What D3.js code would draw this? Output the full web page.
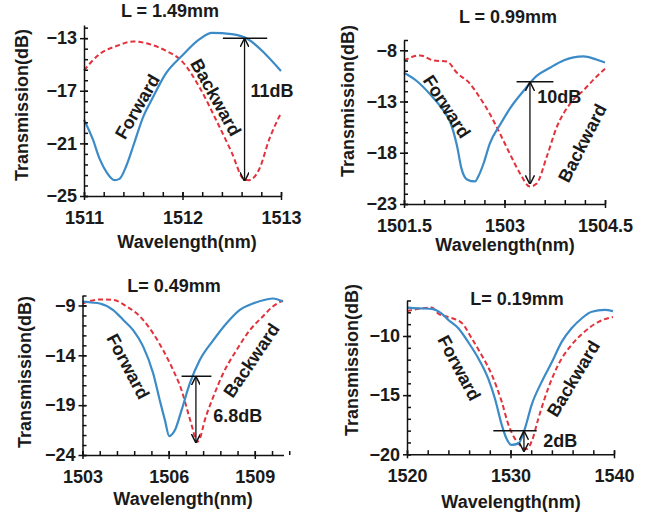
<!DOCTYPE html>
<html>
<head>
<meta charset="utf-8">
<script src="https://cdn.jsdelivr.net/npm/d3@7"></script>
<style>
  body { margin: 0; background: #fff; }
  text { font-family: "Liberation Sans", Arial, sans-serif; font-weight: bold; font-size: 18px; fill: #1a1a1a; }
</style>
</head>
<body>
<svg id="fig" width="654" height="517"></svg>
<script>
// ---- data: [wavelength nm, transmission dB] ----
var fwd149 = [[1511,-19.2],[1511.09,-20.7],[1511.16,-22.2],[1511.23,-23.2],[1511.31,-23.8],[1511.36,-23.7],[1511.43,-22.7],[1511.5,-21.2],[1511.6,-19.0],[1511.7,-17.5],[1511.83,-15.7],[1512,-14.3],[1512.17,-13.1],[1512.3,-12.6],[1512.5,-12.7],[1512.67,-13.1],[1512.84,-14.2],[1513,-15.5]];
var bwd149 = [[1511,-15.45],[1511.16,-14.2],[1511.33,-13.6],[1511.5,-13.25],[1511.66,-13.45],[1511.83,-13.95],[1512,-14.8],[1512.17,-16.7],[1512.34,-19.2],[1512.5,-21.7],[1512.62,-23.7],[1512.67,-23.8],[1512.78,-22.95],[1512.88,-20.7],[1513,-18.7]];

var fwd099 = [[1501.5,-10.2],[1501.69,-11.0],[1501.89,-12.3],[1502.09,-13.9],[1502.19,-15.0],[1502.29,-17.3],[1502.36,-19.6],[1502.44,-20.6],[1502.56,-20.8],[1502.61,-20.3],[1502.69,-19.0],[1502.78,-17.1],[1502.94,-15.2],[1503.09,-13.6],[1503.28,-12.0],[1503.48,-10.5],[1503.68,-9.7],[1503.88,-9.0],[1504.18,-8.6],[1504.37,-8.9],[1504.5,-9.2]];
var bwd099 = [[1501.5,-9.0],[1501.74,-8.5],[1501.94,-9.0],[1502.14,-9.1],[1502.29,-10.2],[1502.49,-11.3],[1502.63,-12.6],[1502.78,-14.2],[1502.93,-16.1],[1503.08,-18.1],[1503.23,-20.0],[1503.38,-21.3],[1503.48,-21.0],[1503.63,-18.4],[1503.78,-15.5],[1503.98,-13.2],[1504.18,-11.9],[1504.37,-10.6],[1504.5,-9.8]];

var fwd049 = [[1503,-8.6],[1503.3,-8.7],[1503.6,-8.8],[1504.07,-9.46],[1504.42,-10.46],[1504.77,-11.5],[1505.11,-13.1],[1505.46,-15.8],[1505.69,-18.5],[1505.87,-20.5],[1506.02,-22.1],[1506.22,-21.5],[1506.45,-19.5],[1506.74,-16.8],[1507.08,-14.5],[1507.55,-12.5],[1508.01,-10.8],[1508.47,-9.46],[1508.94,-8.8],[1509.4,-8.4],[1509.63,-8.3],[1509.98,-8.6]];
var bwd049 = [[1503,-8.8],[1503.6,-8.4],[1504.07,-8.45],[1504.54,-9.1],[1505.0,-10.1],[1505.46,-11.8],[1505.81,-13.5],[1506.16,-15.5],[1506.45,-17.5],[1506.68,-19.8],[1506.85,-21.5],[1506.97,-22.7],[1507.08,-22.4],[1507.26,-20.5],[1507.55,-18.2],[1507.9,-15.8],[1508.36,-13.5],[1508.82,-11.5],[1509.28,-10.1],[1509.63,-9.1],[1509.98,-8.5]];

var fwd019 = [[1520,-7.6],[1521.1,-7.66],[1522.4,-7.7],[1523.35,-8.1],[1524,-8.65],[1524.96,-9.35],[1525.9,-10.5],[1526.9,-11.9],[1527.85,-13.6],[1528.5,-15.3],[1529.15,-17.5],[1529.6,-18.65],[1530.1,-19.2],[1530.75,-19.1],[1531.4,-17.8],[1532.05,-15.8],[1533.0,-13.9],[1534.0,-12.2],[1534.95,-10.5],[1535.9,-9.35],[1536.9,-8.5],[1537.85,-7.95],[1539.1,-7.8],[1539.9,-7.9]];
var bwd019 = [[1520,-7.9],[1521.1,-7.7],[1522.4,-7.6],[1523.0,-8.1],[1524.0,-8.4],[1525.3,-8.9],[1526.25,-10.2],[1527.2,-11.6],[1528.2,-13.3],[1529.15,-15.55],[1529.8,-17.5],[1530.4,-18.65],[1531.05,-19.35],[1531.55,-19.55],[1532.05,-18.9],[1532.7,-16.95],[1533.65,-14.4],[1534.6,-12.45],[1535.9,-10.75],[1537.2,-9.6],[1538.5,-8.8],[1539.9,-8.4]];

// tick labels
var xTicks149 = [1511, 1512, 1513],        yTicks149 = [-25, -21, -17, -13];
var xTicks099 = [1501.5, 1503, 1504.5],    yTicks099 = [-23, -18, -13, -8];
var xTicks049 = [1503, 1506, 1509],        yTicks049 = [-24, -19, -14, -9];
var xTicks019 = [1520, 1530, 1540],        yTicks019 = [-20, -15, -10];

// extinction marks: [x, yTop, yBottom, xLineStart, xLineEnd]
var mark149 = [1512.63, -13.0, -23.9, 1512.41, 1512.86];
var mark099 = [1503.38, -11.07, -21.1, 1503.18, 1503.73];
var mark049 = [1506.95, -16.1, -22.8, 1506.45, 1507.49];
var mark019 = [1531.3, -18.0, -19.8, 1528.34, 1532.53];

var panels = [
  { title: "L = 1.49mm", fwd: fwd149, bwd: bwd149, xd: [1511, 1513], yd: [-25, -12], xt: xTicks149, yt: yTicks149,
    xMinor: 0.2, yMinor: 0.8, mark: mark149, dB: "11dB", dBpos: [1512.69, -17.5],
    fLab: [1511.54, -18.2, -60], bLab: [1512.34, -17.5, 61],
    box: { left: 84, top: 25, width: 197, height: 171 }, tpos: [170, 17], xl: [187, 248], yl: [22, 105] },
  { title: "L = 0.99mm", fwd: fwd099, bwd: bwd099, xd: [1501.5, 1504.5], yd: [-23, -7], xt: xTicks099, yt: yTicks099,
    xMinor: 0.3, yMinor: 1, mark: mark099, dB: "10dB", dBpos: [1503.49, -13.15],
    fLab: [1502.14, -13.5, 57], bLab: [1504.16, -17.05, -63],
    box: { left: 404, top: 40, width: 201, height: 164 }, tpos: [508, 23], xl: [505, 251], yl: [348, 101] },
  { title: "L= 0.49mm", fwd: fwd049, bwd: bwd049, xd: [1503, 1510], yd: [-24, -8], xt: xTicks049, yt: yTicks049,
    xMinor: 0.6, yMinor: 1, mark: mark049, dB: "6.8dB", dBpos: [1507.55, -20.7],
    fLab: [1504.59, -15.1, 62], bLab: [1508.88, -14.5, -56],
    box: { left: 82.5, top: 295.5, width: 201, height: 159.5 }, tpos: [174, 292], xl: [183, 505], yl: [25, 372] },
  { title: "L= 0.19mm", fwd: fwd019, bwd: bwd019, xd: [1520, 1540], yd: [-20, -7], xt: xTicks019, yt: yTicks019,
    xMinor: 2, yMinor: 1, mark: mark019, dB: "2dB", dBpos: [1533.17, -19.36],
    fLab: [1525.05, -12.7, 62], bLab: [1536.07, -13.6, -59],
    box: { left: 407, top: 300.5, width: 207, height: 153.8 }, tpos: [517, 305], xl: [511, 508], yl: [352, 360] }
];

var svg = d3.select("#fig");
var defs = svg.append("defs");
["start", "end"].forEach(function(k) {
  defs.append("marker")
    .attr("id", "arr-" + k)
    .attr("viewBox", "0 0 10 10")
    .attr("refX", 9).attr("refY", 5)
    .attr("markerWidth", 7).attr("markerHeight", 7)
    .attr("orient", k == "end" ? "auto" : "auto-start-reverse")
    .append("path")
    .attr("d", "M0,0 L10,5 L0,10")
    .attr("fill", "none").attr("stroke", "#111").attr("stroke-width", 1.6);
});

function minorRange(lo, hi, step) {
  var n = Math.round((hi - lo) / step);
  return d3.range(0, n + 1).map(function(i) { return +(lo + i * step).toFixed(4); });
}

panels.forEach(function(p) {
  var b = p.box;
  var x = d3.scaleLinear().domain(p.xd).range([b.left, b.left + b.width]);
  var y = d3.scaleLinear().domain(p.yd).range([b.top + b.height, b.top]);

  var line = d3.line()
    .x(function(d) { return x(d[0]); })
    .y(function(d) { return y(d[1]); })
    .curve(d3.curveMonotoneX);

  // curves
  svg.append("path").datum(p.bwd)
    .attr("d", line).attr("fill", "none")
    .attr("stroke", "#e3323c").attr("stroke-width", 2)
    .attr("stroke-dasharray", "5,3");
  svg.append("path").datum(p.fwd)
    .attr("d", line).attr("fill", "none")
    .attr("stroke", "#3a8bc8").attr("stroke-width", 2.2);

  // x axis
  var xa = svg.append("g").attr("transform", "translate(0," + y(p.yd[0]) + ")");
  xa.append("g")
    .call(d3.axisTop(x).tickValues(minorRange(p.xd[0], p.xd[1], p.xMinor)).tickSize(4).tickFormat(""))
    .call(function(g) { g.select(".domain").remove(); });
  xa.append("g")
    .call(d3.axisBottom(x).tickValues(p.xt).tickSize(4).tickSizeOuter(0).tickFormat(d3.format("")))
    .call(function(g) {
      g.selectAll(".tick line").attr("y1", -4);
      g.selectAll(".tick text").attr("y", 15);
      g.attr("font-size", null).attr("font-family", null);
    });

  // y axis
  var ya = svg.append("g").attr("transform", "translate(" + x(p.xd[0]) + ",0)");
  ya.append("g")
    .call(d3.axisRight(y).tickValues(minorRange(p.yd[0], p.yd[1], p.yMinor)).tickSize(4).tickFormat(""))
    .call(function(g) { g.select(".domain").remove(); });
  ya.append("g")
    .call(d3.axisLeft(y).tickValues(p.yt).tickSize(4).tickSizeOuter(0).tickFormat(d3.format("")))
    .call(function(g) {
      g.selectAll(".tick line").attr("x1", 4);
      g.attr("font-size", null).attr("font-family", null);
    });
  svg.selectAll(".domain, .tick line").attr("stroke", "#111").attr("stroke-width", 1.5);

  // extinction arrow + reference line
  var m = p.mark;
  svg.append("line")
    .attr("x1", x(m[0])).attr("x2", x(m[0]))
    .attr("y1", y(m[1]) + 1).attr("y2", y(m[2]) - 1)
    .attr("stroke", "#111").attr("stroke-width", 1.3)
    .attr("marker-start", "url(#arr-start)").attr("marker-end", "url(#arr-end)");
  svg.append("line")
    .attr("x1", x(m[3])).attr("x2", x(m[4]))
    .attr("y1", y(m[1])).attr("y2", y(m[1]))
    .attr("stroke", "#111").attr("stroke-width", 1.5);
  svg.append("text").attr("x", x(p.dBpos[0])).attr("y", y(p.dBpos[1])).text(p.dB);

  // Forward / Backward labels
  [["Forward", p.fLab], ["Backward", p.bLab]].forEach(function(l) {
    svg.append("text")
      .attr("text-anchor", "middle").attr("dy", "0.35em")
      .attr("transform", "translate(" + x(l[1][0]) + "," + y(l[1][1]) + ") rotate(" + l[1][2] + ")")
      .text(l[0]);
  });

  // titles
  svg.append("text").attr("x", p.tpos[0]).attr("y", p.tpos[1]).attr("text-anchor", "middle").text(p.title);
  svg.append("text").attr("x", p.xl[0]).attr("y", p.xl[1]).attr("text-anchor", "middle").text("Wavelength(nm)");
  svg.append("text")
    .attr("text-anchor", "middle").attr("dy", "0.35em")
    .attr("transform", "translate(" + p.yl[0] + "," + p.yl[1] + ") rotate(-90)")
    .text("Transmission(dB)");
});
</script>
</body>
</html>
